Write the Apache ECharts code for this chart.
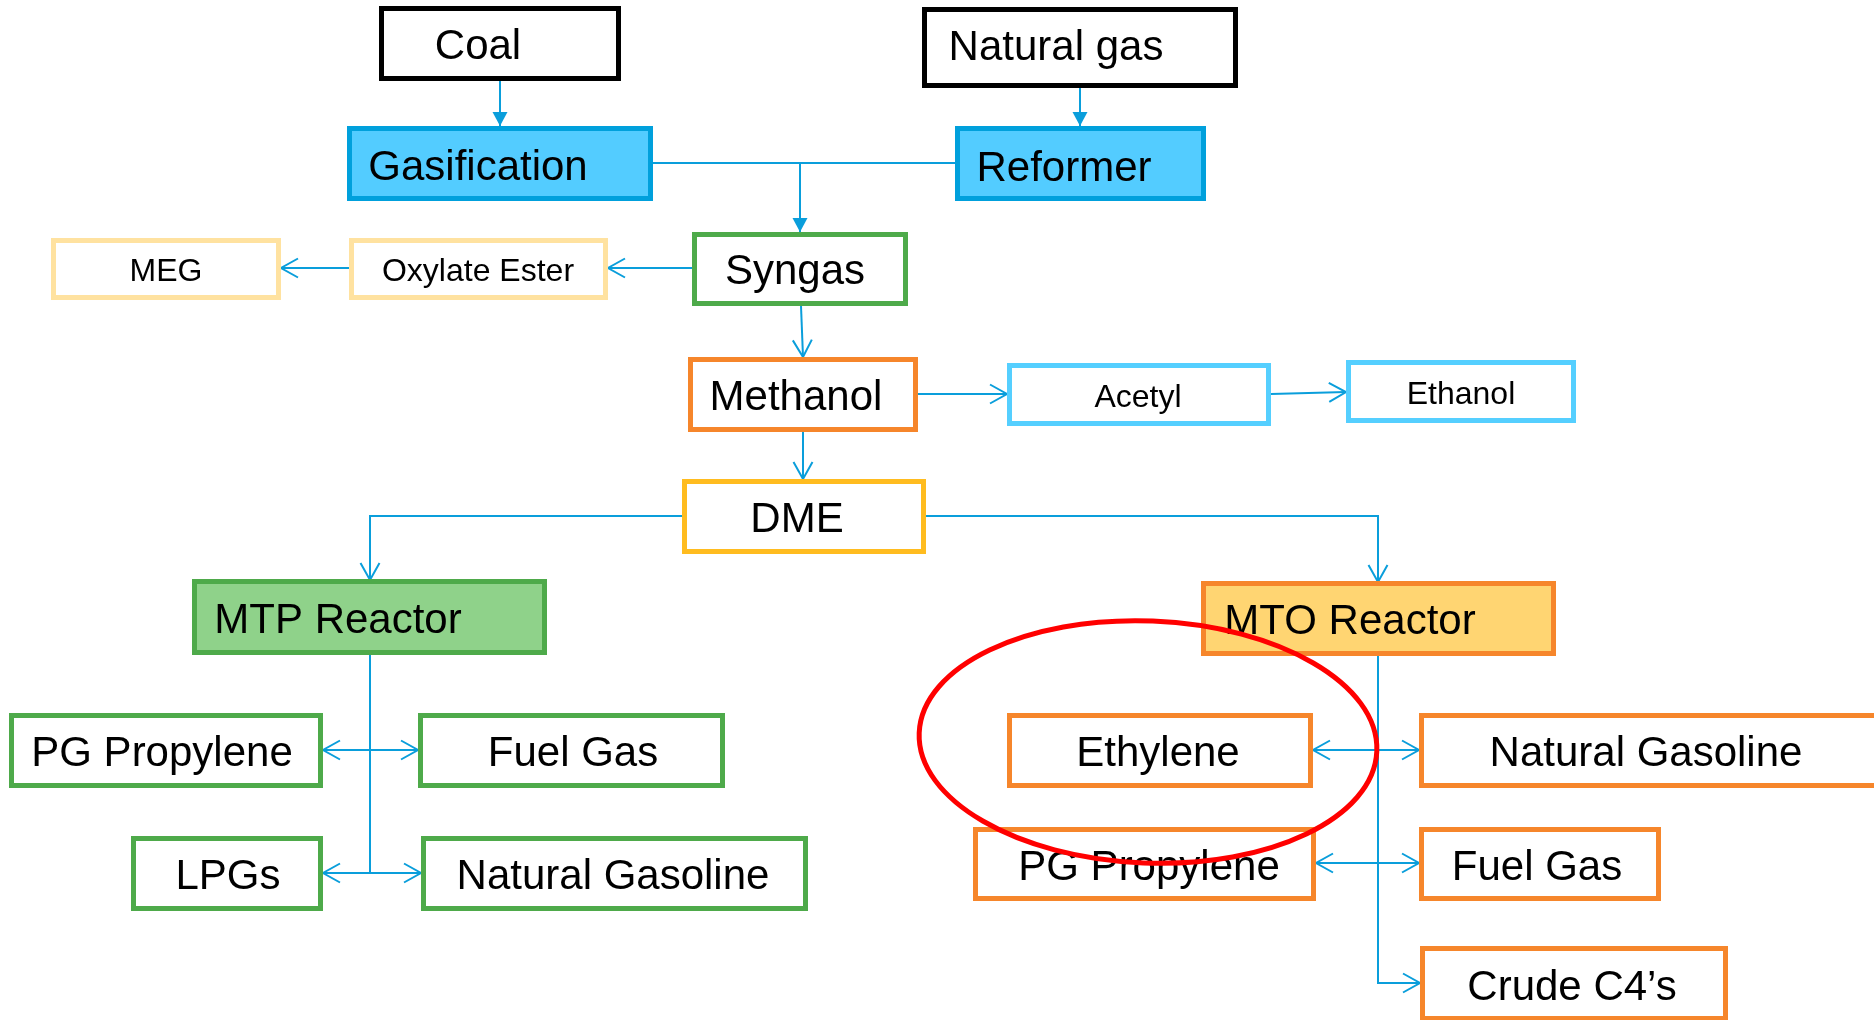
<!DOCTYPE html>
<html>
<head>
<meta charset="utf-8">
<script src="https://cdn.jsdelivr.net/npm/echarts@6/dist/echarts.min.js"></script>
<style>
  html, body { margin: 0; padding: 0; background: #fff; }
  #chart { width: 1874px; height: 1020px; }
</style>
</head>
<body>
<div id="chart"></div>
<script>
// boxes of the flow, outer edges in diagram units (x to the right, y downward)
var boxNames = ['Coal', 'Natural gas', 'Gasification', 'Reformer', 'Syngas', 'Oxylate Ester', 'MEG',
  'Methanol', 'Acetyl', 'Ethanol', 'DME', 'MTP Reactor', 'MTO Reactor',
  'PG Propylene', 'Fuel Gas', 'LPGs', 'Natural Gasoline',
  'Ethylene', 'Natural Gasoline', 'PG Propylene', 'Fuel Gas', 'Crude C4\u2019s'];
var boxLeft   = [379, 922, 347, 955, 692, 349, 51, 688, 1007, 1346, 682, 192, 1201, 9, 418, 131, 421, 1007, 1419, 973, 1419, 1420];
var boxTop    = [6, 7, 126, 126, 232, 238, 238, 357, 363, 360, 479, 579, 581, 713, 713, 836, 836, 713, 713, 827, 827, 946];
var boxRight  = [621, 1238, 653, 1206, 908, 608, 281, 918, 1271, 1576, 926, 547, 1556, 323, 725, 323, 808, 1313, 1886, 1316, 1661, 1728];
var boxBottom = [81, 88, 201, 201, 306, 300, 300, 432, 426, 423, 554, 655, 656, 788, 788, 911, 911, 788, 788, 901, 901, 1021];
// label centres
var labelX    = [478, 1056, 478, 1064, 795, 478, 166, 796, 1138, 1461, 797, 338, 1350, 162, 573, 228, 613, 1158, 1646, 1149, 1537, 1572];
var labelY    = [44, 45, 165, 166, 269, 269, 269, 395, 395, 392, 517, 618, 619, 751, 751, 874, 874, 751, 751, 865, 865, 985];
var boxKind   = ['feed', 'feed', 'unit', 'unit', 'green', 'pale', 'pale', 'orange', 'sky', 'sky', 'amber', 'mtp', 'mto',
  'green', 'green', 'green', 'green', 'orange', 'orange', 'orange', 'orange', 'orange'];
var smallLabels = ['Oxylate Ester', 'MEG', 'Acetyl', 'Ethanol'];

// connectors: point lists, with the kind of head at the end
var linkPoints = [
  [[500, 81], [500, 126]],
  [[1080, 88], [1080, 126]],
  [[653, 163], [955, 163]],
  [[800, 163], [800, 232]],
  [[692, 268], [608, 268]],
  [[349, 268], [281, 268]],
  [[801, 306], [803, 357]],
  [[803, 432], [803, 479]],
  [[918, 394], [1007, 394]],
  [[1271, 394], [1346, 392]],
  [[682, 516], [370, 516], [370, 580]],
  [[926, 516], [1378, 516], [1378, 582]],
  [[361, 634], [370, 653], [370, 873]],
  [[349, 648], [370, 653]],
  [[370, 750], [323, 750]],
  [[370, 750], [418, 750]],
  [[370, 873], [323, 873]],
  [[370, 873], [421, 873]],
  [[1378, 656], [1378, 983], [1420, 983]],
  [[1378, 750], [1313, 750]],
  [[1378, 750], [1419, 750]],
  [[1378, 863], [1316, 863]],
  [[1378, 863], [1419, 863]]
];
var linkHead = ['solid', 'solid', 'none', 'solid', 'open', 'open', 'open', 'open', 'open', 'open', 'open', 'open',
  'none', 'none', 'open', 'open', 'open', 'open', 'open', 'open', 'open', 'open', 'open'];

// the red highlight ring: centre x, centre y, half width, half height
var ring = [1148, 742, 229, 121];

var kindStyle = {
  feed:   { fill: '#ffffff', stroke: '#000000' },
  unit:   { fill: '#53ccff', stroke: '#00a0dc' },
  green:  { fill: '#ffffff', stroke: '#4eaa4a' },
  pale:   { fill: '#ffffff', stroke: '#ffe2a0' },
  orange: { fill: '#ffffff', stroke: '#f6862b' },
  sky:    { fill: '#ffffff', stroke: '#55cfff' },
  amber:  { fill: '#ffffff', stroke: '#ffbc1f' },
  mtp:    { fill: '#8fd28a', stroke: '#4eaa4a' },
  mto:    { fill: '#ffd572', stroke: '#f6862b' }
};
var lineColor = '#0a9edb';
var fontFamily = '"Liberation Sans", Arial, "DejaVu Sans", sans-serif';

var chart = echarts.init(document.getElementById('chart'));

function renderBox(params, api) {
  var i = api.value(0);
  var st = kindStyle[boxKind[i]];
  var lw = 5;
  var p0 = api.coord([boxLeft[i], boxTop[i]]);
  var p1 = api.coord([boxRight[i], boxBottom[i]]);
  var pc = api.coord([labelX[i], labelY[i]]);
  var size = smallLabels.indexOf(boxNames[i]) >= 0 ? 32 : 42;
  return {
    type: 'group',
    children: [{
      type: 'rect',
      shape: { x: p0[0] + lw / 2, y: p0[1] + lw / 2, width: p1[0] - p0[0] - lw, height: p1[1] - p0[1] - lw },
      style: { fill: st.fill, stroke: st.stroke, lineWidth: lw }
    }, {
      type: 'text',
      style: {
        text: boxNames[i], x: pc[0], y: pc[1] + 3,
        fill: '#000', font: size + 'px ' + fontFamily,
        align: 'center', verticalAlign: 'middle'
      }
    }]
  };
}

function renderLink(params, api) {
  var i = api.value(0);
  var pts = linkPoints[i].map(function (p) { return api.coord(p); });
  var children = [{
    type: 'polyline',
    shape: { points: pts },
    style: { fill: null, stroke: lineColor, lineWidth: 2 }
  }];
  var head = linkHead[i];
  if (head !== 'none') {
    var a = pts[pts.length - 2], b = pts[pts.length - 1];
    var dx = b[0] - a[0], dy = b[1] - a[1];
    var len = Math.sqrt(dx * dx + dy * dy);
    dx /= len; dy /= len;
    var L = head === 'solid' ? 14 : 17;
    var W = head === 'solid' ? 7.5 : 9.5;
    var bx = b[0] - dx * L, by = b[1] - dy * L;
    var s1 = [bx - dy * W, by + dx * W];
    var s2 = [bx + dy * W, by - dx * W];
    if (head === 'solid') {
      children.push({ type: 'polygon', shape: { points: [b, s1, s2] }, style: { fill: lineColor } });
    } else {
      children.push({ type: 'polyline', shape: { points: [s1, b, s2] }, style: { fill: null, stroke: lineColor, lineWidth: 2 } });
    }
  }
  return { type: 'group', children: children };
}

function renderRing(params, api) {
  var c = api.coord([ring[0], ring[1]]);
  var e = api.coord([ring[0] + ring[2], ring[1] + ring[3]]);
  return {
    type: 'ellipse',
    x: c[0], y: c[1], rotation: -0.04,
    shape: { cx: 0, cy: 0, rx: e[0] - c[0], ry: e[1] - c[1] },
    style: { fill: null, stroke: '#ff0000', lineWidth: 5 }
  };
}

chart.setOption({
  backgroundColor: '#ffffff',
  animation: false,
  grid: { left: 0, right: 0, top: 0, bottom: 0 },
  xAxis: { type: 'value', min: 0, max: 1874, show: false },
  yAxis: { type: 'value', min: 0, max: 1020, inverse: true, show: false },
  series: [{
    type: 'custom',
    name: 'links',
    clip: false,
    z: 1,
    renderItem: renderLink,
    encode: { x: 1, y: 2 },
    data: linkPoints.map(function (p, i) { return [i, p[0][0], p[0][1]]; })
  }, {
    type: 'custom',
    name: 'boxes',
    clip: false,
    z: 2,
    renderItem: renderBox,
    encode: { x: 1, y: 2 },
    data: boxNames.map(function (n, i) { return [i, boxLeft[i], boxTop[i]]; })
  }, {
    type: 'custom',
    name: 'ring',
    clip: false,
    z: 3,
    renderItem: renderRing,
    encode: { x: 1, y: 2 },
    data: [[0, ring[0], ring[1]]]
  }]
});
</script>
</body>
</html>
